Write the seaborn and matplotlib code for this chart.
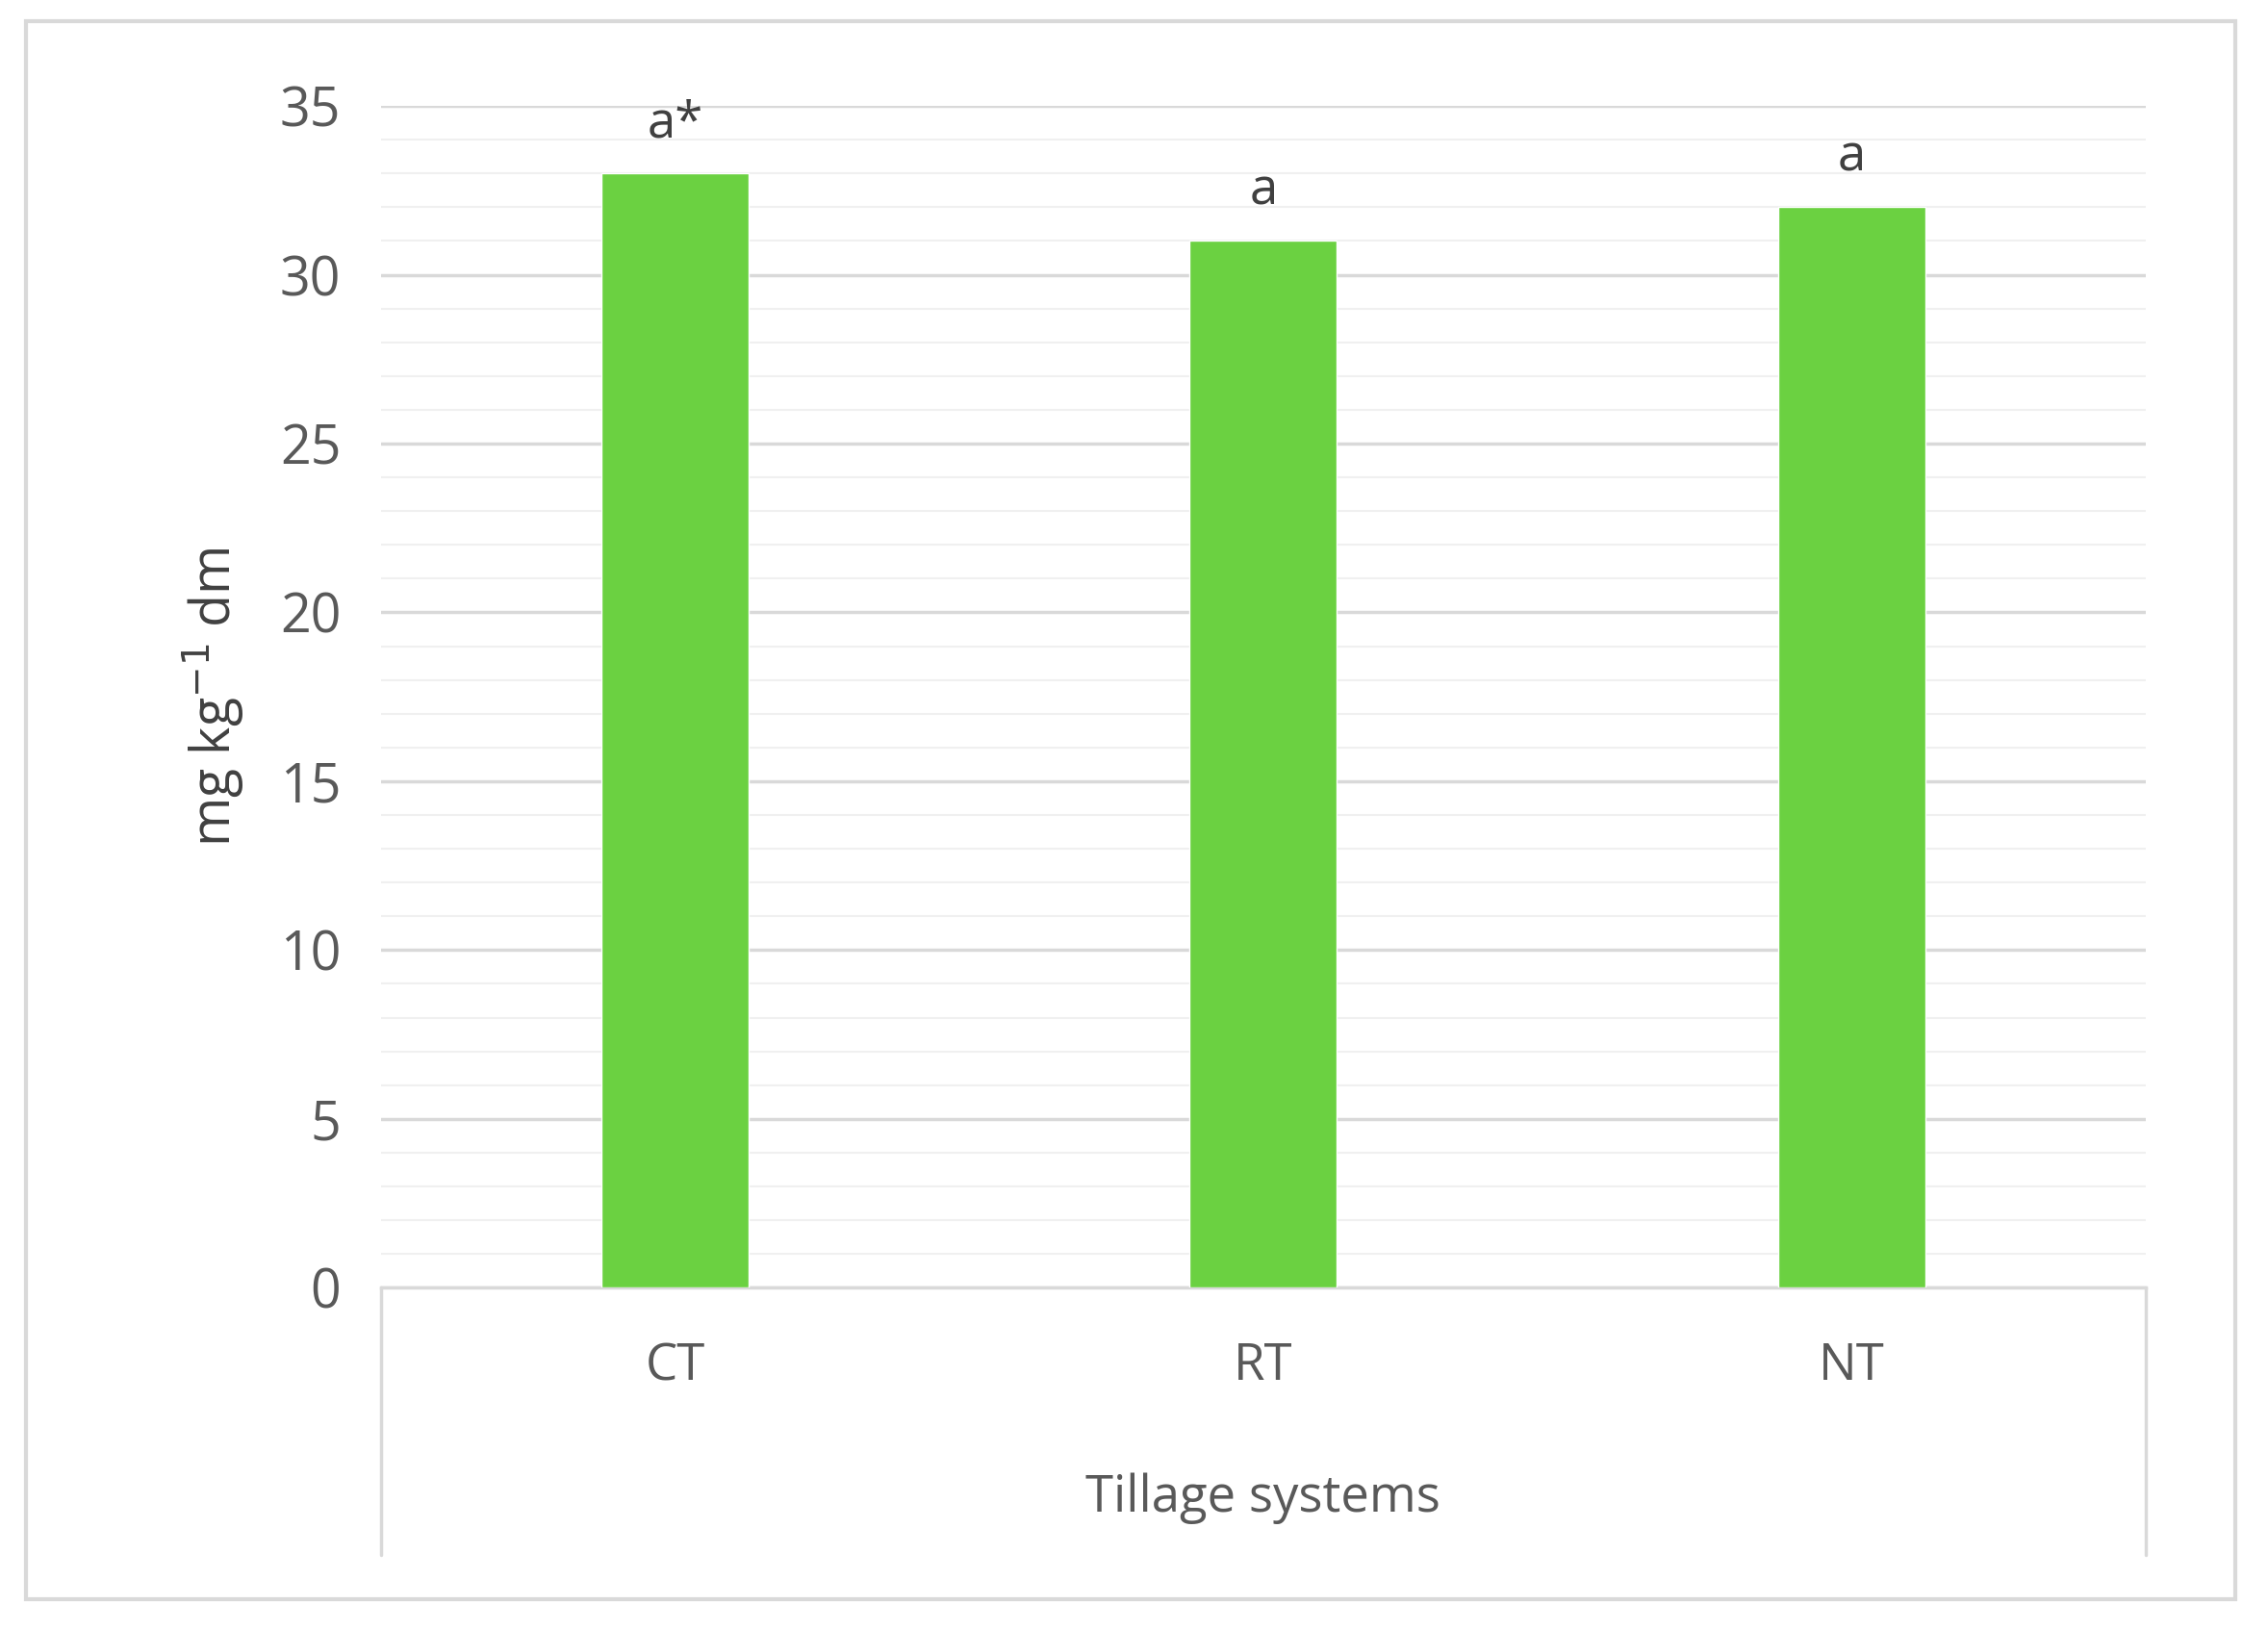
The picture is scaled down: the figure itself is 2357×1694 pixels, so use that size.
import matplotlib
matplotlib.use("Agg")
import matplotlib.pyplot as plt
import seaborn as sns
import pandas as pd
from matplotlib.lines import Line2D
from matplotlib.patches import Rectangle

categories = ["CT", "RT", "NT"]
values = [33.0, 31.0, 32.0]
letters = ["a*", "a", "a"]

sns.set_style("white")
plt.rcParams['font.family'] = ['Open Sans', 'DejaVu Sans']
fig = plt.figure(figsize=(23.57, 16.94), dpi=100)
ax = fig.add_axes([0.168, 0.21, 0.778, 0.725])
df = pd.DataFrame({"cat": categories, "val": values})
sns.barplot(data=df, x="cat", y="val", color="#6BD141", saturation=1, width=0.25, ax=ax, zorder=3)
ax.set_ylim(0, 35)
ax.set_xlim(-0.5, 2.5)
ax.set_yticks(range(0, 36, 5))
ax.set_yticks(range(0, 36, 1), minor=True)
ax.grid(axis="y", which="major", color="#D9D9D9", lw=2.5, zorder=0)
ax.grid(axis="y", which="minor", color="#F0F0F0", lw=1.5, zorder=0)
for s in ["top", "right", "left"]:
    ax.spines[s].set_visible(False)
ax.spines["bottom"].set_color("#D9D9D9"); ax.spines["bottom"].set_linewidth(2.5)
ax.tick_params(axis="y", labelsize=40, labelcolor="#595959", length=0, pad=30)
ax.tick_params(axis="x", labelsize=38, labelcolor="#595959", length=0, pad=40)
ax.set_xlabel("Tillage systems", fontsize=38, color="#595959", labelpad=60)
ax.set_ylabel("mg kg$^{-1}$ dm", fontsize=40, color="#404040", labelpad=25)
for i, (v, t) in enumerate(zip(values, letters)):
    ax.text(i, v + 0.7, t, ha="center", va="bottom", fontsize=38, color="#404040")
# category box lines
for xf in [0.168, 0.946]:
    fig.add_artist(Line2D([xf, xf], [0.046, 0.21], color="#D9D9D9", lw=2.5))
fig.add_artist(Rectangle((0.0115, 0.019), 0.974, 0.968, fill=False, ec="#D9D9D9", lw=3, transform=fig.transFigure))
fig.savefig("out.png", dpi=100, facecolor="white")
